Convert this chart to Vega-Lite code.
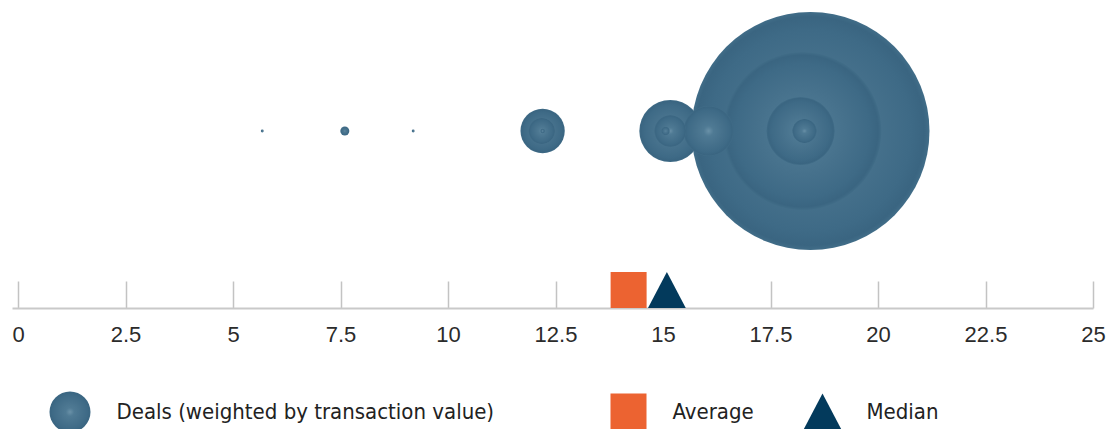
{
  "$schema": "https://vega.github.io/schema/vega-lite/v6.json",
  "width": 1081,
  "height": 308,
  "autosize": {"type": "none"},
  "padding": {"left": 12, "top": 0, "right": 18, "bottom": 121},
  "background": "white",
  "config": {"view": {"stroke": null}},
  "datasets": {
    "deals": [
      {"series": "Deals (weighted by transaction value)", "group": "deal", "multiple": 18.43, "value": 141.6},
      {"series": "Deals (weighted by transaction value)", "group": "deal", "multiple": 18.24, "value": 62.4},
      {"series": "Deals (weighted by transaction value)", "group": "deal", "multiple": 18.2, "value": 11.6},
      {"series": "Deals (weighted by transaction value)", "group": "deal", "multiple": 15.17, "value": 9.6},
      {"series": "Deals (weighted by transaction value)", "group": "deal", "multiple": 16.06, "value": 6.25},
      {"series": "Deals (weighted by transaction value)", "group": "deal", "multiple": 12.2, "value": 4.9},
      {"series": "Deals (weighted by transaction value)", "group": "deal", "multiple": 15.17, "value": 2.5},
      {"series": "Deals (weighted by transaction value)", "group": "deal", "multiple": 12.18, "value": 1.7},
      {"series": "Deals (weighted by transaction value)", "group": "deal", "multiple": 18.29, "value": 1.44},
      {"series": "Deals (weighted by transaction value)", "group": "deal", "multiple": 7.6, "value": 0.2},
      {"series": "Deals (weighted by transaction value)", "group": "deal", "multiple": 15.06, "value": 0.16},
      {"series": "Deals (weighted by transaction value)", "group": "deal", "multiple": 12.2, "value": 0.05},
      {"series": "Deals (weighted by transaction value)", "group": "deal", "multiple": 5.68, "value": 0.02},
      {"series": "Deals (weighted by transaction value)", "group": "deal", "multiple": 9.19, "value": 0.02}
    ],
    "stats": [
      {"series": "Average", "group": "stat", "multiple": 14.2},
      {"series": "Median", "group": "stat", "multiple": 15.09}
    ]
  },
  "layer": [
    {
      "data": {"name": "deals"},
      "mark": {
        "type": "point",
        "shape": "circle",
        "filled": true,
        "opacity": 1,
        "strokeWidth": 0,
        "fill": {
          "gradient": "radial",
          "x1": 0.5, "y1": 0.5, "r1": 0,
          "x2": 0.5, "y2": 0.5, "r2": 0.5,
          "stops": [
            {"offset": 0, "color": "#6a91a8"},
            {"offset": 0.2, "color": "#4f7a94"},
            {"offset": 0.55, "color": "#46718c"},
            {"offset": 0.85, "color": "#3e6a86"},
            {"offset": 0.96, "color": "#3a6581"},
            {"offset": 1, "color": "#416d88"}
          ]
        }
      },
      "encoding": {
        "x": {
          "field": "multiple",
          "type": "quantitative",
          "scale": {"domain": [-0.14, 25], "nice": false, "zero": false},
          "axis": {
            "values": [0, 2.5, 5, 7.5, 10, 12.5, 15, 17.5, 20, 22.5, 25],
            "format": ".1~f",
            "title": null,
            "grid": false,
            "domainColor": "#c9c9c9",
            "domainWidth": 2,
            "tickColor": "#c3c3c3",
            "tickWidth": 1.5,
            "tickSize": -27,
            "labelFont": "Liberation Sans",
            "labelFontSize": 22,
            "labelColor": "#2b2b2b",
            "labelPadding": 43,
            "labelFlush": false,
            "labelOverlap": false
          }
        },
        "y": {
          "field": "group",
          "type": "nominal",
          "scale": {"type": "point", "domain": ["deal", "stat"], "range": [131, 290], "padding": 0},
          "axis": null
        },
        "size": {
          "field": "value",
          "type": "quantitative",
          "scale": {"domain": [0, 141.6], "range": [0, 56644], "zero": true},
          "legend": null
        },
        "opacity": {
          "field": "series",
          "type": "nominal",
          "scale": {"range": [1]},
          "legend": {
            "orient": "none",
            "legendX": 37.5,
            "legendY": 391.5,
            "title": null,
            "padding": 0,
            "symbolType": "circle",
            "symbolSize": 1681,
            "symbolStrokeWidth": 0,
            "symbolFillColor": "#41708c",
            "labelFont": "DejaVu Sans Condensed",
            "labelFontSize": 22,
            "labelColor": "#222222",
            "labelOffset": 26,
            "labelLimit": 600,
            "encode": {
              "symbols": {
                "update": {
                  "fill": {"value": {
                    "gradient": "radial",
                    "x1": 0.5, "y1": 0.5, "r1": 0,
                    "x2": 0.5, "y2": 0.5, "r2": 0.5,
                    "stops": [
                      {"offset": 0, "color": "#6f95ac"},
                      {"offset": 0.35, "color": "#527c96"},
                      {"offset": 1, "color": "#3d6984"}
                    ]
                  }},
                  "opacity": {"value": 1}
                }
              }
            }
          }
        }
      }
    },
    {
      "data": {"name": "stats"},
      "mark": {"type": "point", "filled": true, "opacity": 1, "size": 1296, "strokeWidth": 0},
      "encoding": {
        "x": {"field": "multiple", "type": "quantitative"},
        "y": {"field": "group", "type": "nominal"},
        "color": {
          "field": "series",
          "type": "nominal",
          "scale": {"domain": ["Average", "Median"], "range": ["#ec6331", "#033a5c"]},
          "legend": {
            "orient": "none",
            "direction": "horizontal",
            "legendX": 598.5,
            "legendY": 393.5,
            "title": null,
            "padding": 0,
            "symbolSize": 1296,
            "symbolStrokeWidth": 0,
            "symbolOpacity": 1,
            "columnPadding": 49,
            "labelFont": "DejaVu Sans Condensed",
            "labelFontSize": 22,
            "labelColor": "#222222",
            "labelOffset": 26
          }
        },
        "shape": {
          "field": "series",
          "type": "nominal",
          "scale": {"domain": ["Average", "Median"], "range": ["square", "M-1.05,1L1.05,1L0,-1Z"]}
        }
      }
    }
  ]
}
